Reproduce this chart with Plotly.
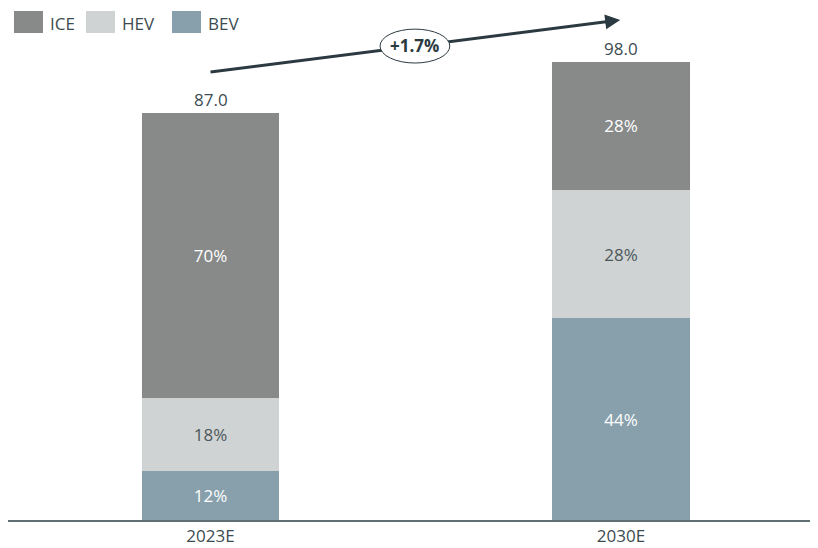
import plotly.graph_objects as go

years = ["2023E", "2030E"]
totals = [87.0, 98.0]
ice_pct = [70, 28]
hev_pct = [18, 28]
bev_pct = [12, 44]
cagr_label = "+1.7%"

colors = {"ICE": "#878a89", "HEV": "#d0d3d3", "BEV": "#87a0ab"}
text_dark = "#3d4b50"
arrow_col = "#2b3a40"
FONT = "Open Sans"

def seg(pcts):
    return [t * p / 100 for t, p in zip(totals, pcts)]

fig = go.Figure()
for name, pcts, tcol in [("BEV", bev_pct, "white"), ("HEV", hev_pct, "#4d585b"), ("ICE", ice_pct, "white")]:
    fig.add_trace(go.Bar(
        x=years, y=seg(pcts), name=name, width=0.334,
        marker=dict(color=colors[name], line=dict(width=0)),
        text=[f"{p}%" for p in pcts], textposition="inside",
        insidetextanchor="middle",
        textfont=dict(family=FONT, size=17, color=tcol),
        hoverinfo="skip",
    ))

# totals
for yr, tot in zip(years, totals):
    fig.add_annotation(x=yr, y=tot, text=f"{tot:.1f}", showarrow=False,
                       yanchor="bottom", yshift=0,
                       font=dict(family=FONT, size=17, color=text_dark))

# CAGR arrow: line shape below the ellipse, arrowhead via annotation
x_start, y_start, x_end, y_end = 0.0, 95.83, 0.998, 106.95
fig.add_shape(type="line", xref="x", yref="y", x0=x_start, y0=y_start,
              x1=x_end - 0.02, y1=y_end - 0.02 * (y_end - y_start) / (x_end - x_start),
              line=dict(color=arrow_col, width=3), layer="above")
fig.add_shape(type="circle", xref="x", yref="y", x0=0.413, x1=0.583,
              y0=97.75, y1=105.0, fillcolor="white",
              line=dict(color=arrow_col, width=1), layer="above")
fig.add_annotation(x=x_end, y=y_end, ax=x_end - 0.04,
                   ay=y_end - 0.04 * (y_end - y_start) / (x_end - x_start),
                   xref="x", yref="y", axref="x", ayref="y", text="",
                   showarrow=True, arrowhead=2, arrowsize=1.0, arrowwidth=3,
                   arrowcolor=arrow_col)
fig.add_annotation(x=0.498, y=101.4, text=f"<b>{cagr_label}</b>", showarrow=False,
                   font=dict(family=FONT, size=17, color=arrow_col))

# custom legend (top-left); page body has an 8px offset
OFF = 8
W, H = 818 - OFF, 548 - OFF
base = 520 - OFF
def px(x): return (x - OFF) / W
def py(y): return (base - (y - OFF)) / base
for name, x0, tx in [("ICE", 14, 48), ("HEV", 86, 120), ("BEV", 172, 206)]:
    fig.add_shape(type="rect", xref="paper", yref="paper",
                  x0=px(x0), x1=px(x0 + 29), y0=py(33), y1=py(11),
                  fillcolor=colors[name], line=dict(width=0))
    fig.add_annotation(xref="paper", yref="paper", x=px(tx), y=py(23),
                       text=name, showarrow=False, xanchor="left", yanchor="middle",
                       font=dict(family=FONT, size=17, color=text_dark))

fig.update_layout(
    barmode="stack", width=W, height=H, showlegend=False,
    margin=dict(l=0, r=0, t=0, b=H - base, autoexpand=False),
    plot_bgcolor="white", paper_bgcolor="white",
    xaxis=dict(range=[-0.4933, 1.4799], showline=True, linecolor="#5e6e73",
               linewidth=1.5, ticks="", showgrid=False, automargin=False,
               tickfont=dict(family=FONT, size=17, color=text_dark)),
    yaxis=dict(range=[0, base / 4.675], visible=False, showgrid=False),
    font=dict(family=FONT),
)

fig.write_html("out.html")
